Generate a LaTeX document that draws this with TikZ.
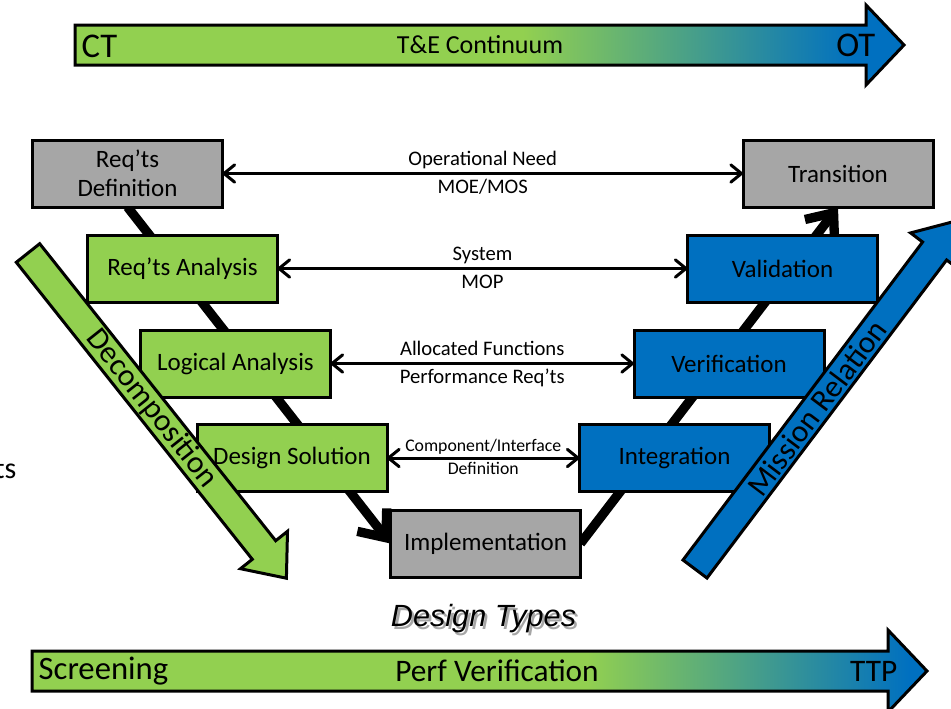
\documentclass[tikz,border=0pt]{standalone}
\usepackage{fontspec}
\setmainfont{Carlito}
\newfontfamily\typefont{Liberation Sans}
\usetikzlibrary{arrows.meta,backgrounds}
\definecolor{vgreen}{HTML}{92D050}
\definecolor{vblue}{HTML}{0070C0}
\definecolor{vgray}{HTML}{A6A6A6}
\pgfdeclarehorizontalshading{topbar}{100bp}{color(0bp)=(vgreen); color(52bp)=(vgreen); color(72bp)=(vblue); color(100bp)=(vblue)}
\pgfdeclarehorizontalshading{botbar}{100bp}{color(0bp)=(vgreen); color(56bp)=(vgreen); color(74bp)=(vblue); color(100bp)=(vblue)}
\begin{document}
\begin{tikzpicture}[x=0.75pt,y=-0.75pt,
  stage/.style={draw,line width=2.25pt,minimum width=142.5pt,minimum height=50.25pt,
    inner sep=1pt,outer sep=0pt,align=center,font=\fontsize{18.75}{21.5}\selectfont},
  defstage/.style={stage,fill=vgray},
  decstage/.style={stage,fill=vgreen},
  intstage/.style={stage,fill=vblue},
  flowlink/.style={line width=2.25pt,{Straight Barb[round,length=8pt,width=13pt]}-{Straight Barb[round,length=8pt,width=13pt]}},
  vleg/.style={line width=7pt,-{Straight Barb[length=17pt,width=28pt]}},
  lbl/.style={font=\fontsize{15.5}{17}\selectfont,anchor=base,inner sep=0pt},
  smalllbl/.style={font=\fontsize{13.3}{14}\selectfont,anchor=base,inner sep=0pt},
  bartext/.style={font=\fontsize{23.5}{26}\selectfont},
  endtext/.style={font=\fontsize{26}{28}\selectfont},
  bigarrow/.style={line width=2.25pt,line join=miter}]
\useasboundingbox (0,0) rectangle (951,708);

% T&E continuum bar
\shadedraw[shading=topbar,bigarrow] (75,25) -- (866,25) -- (866,5) -- (904,45) -- (866,85) -- (866,65) -- (75,65) -- cycle;
\node[endtext,anchor=west] (ct) at (77,46) {CT};
\node[font=\fontsize{19.5}{21}\selectfont] (te) at (480,45) {T\&E Continuum};
\node[endtext,anchor=east] (ot) at (880,45) {OT};

% stages
\node[defstage] (rdef) at (127.5,173.5) {Req’ts\\Definition};
\node[defstage] (trans) at (838,173.5) {Transition};
\node[decstage] (rana) at (182.5,268.5) {Req’ts Analysis};
\node[intstage] (vali) at (782.5,268.5) {Validation};
\node[decstage] (loga) at (235.5,363.5) {Logical Analysis};
\node[intstage] (veri) at (729,363.5) {Verification};
\node[decstage] (dsol) at (292,458) {Design Solution};
\node[intstage] (integ) at (674.5,458) {Integration};
\node[defstage] (impl) at (485.5,543.5) {Implementation};

% legs of the V
\begin{scope}[on background layer]
  \draw[vleg] (rdef.south) -- (impl.west);
  \draw[vleg] (impl.east) -- (trans.south);
\end{scope}

% links across
\draw[flowlink] (rdef) -- (trans)
  node[lbl,midway,yshift=6pt] {Operational Need}
  node[lbl,midway,yshift=-15pt] {MOE/MOS};
\draw[flowlink] (rana) -- (vali)
  node[lbl,midway,yshift=6pt] {System}
  node[lbl,midway,yshift=-15pt] {MOP};
\draw[flowlink] (loga) -- (veri)
  node[lbl,midway,yshift=6pt] {Allocated Functions}
  node[lbl,midway,yshift=-15pt] {Performance Req’ts};
\draw[flowlink] (dsol) -- (integ)
  node[smalllbl,midway,yshift=5pt] {Component/Interface}
  node[smalllbl,midway,yshift=-12pt] {Definition};

% side arrows
\filldraw[fill=vgreen,bigarrow] (39.7,243.7) -- (275.7,540.7) -- (287.5,531.3) -- (286.4,578.2) -- (240.5,568.7) -- (252.3,559.3) -- (16.3,262.3) -- cycle;
\node[rotate=-51.5,font=\fontsize{23.5}{26}\selectfont] (decomp) at (151.8,408.8) {Decomposition};
\filldraw[fill=vblue,bigarrow] (707,578) -- (946.6,260) -- (958.6,269) -- (957.5,220.6) -- (910.6,232.9) -- (922.6,242) -- (683,560) -- cycle;
\node[rotate=53,font=\fontsize{23.5}{26}\selectfont] (mission) at (817,408) {Mission Relation};

\node[anchor=base east,font=\fontsize{22.5}{26}\selectfont] (cut) at (21,478) {ts};

% design types
\node[font=\typefont\itshape\fontsize{23}{26}\selectfont,text=black!35] at (486,621.5) {Design Types};
\node[font=\typefont\itshape\fontsize{23}{26}\selectfont] (dtypes) at (483.5,619) {Design Types};

% perf verification bar
\shadedraw[shading=botbar,bigarrow] (32,651) -- (888,651) -- (888,630) -- (927,671) -- (888,712) -- (888,691) -- (32,691) -- cycle;
\node[bartext,anchor=west,font=\fontsize{24.5}{26}\selectfont] (scr) at (34,671) {Screening};
\node[bartext] (perf) at (497,671) {Perf Verification};
\node[bartext,anchor=east] (ttp) at (902,671) {TTP};
\end{tikzpicture}
\end{document}
